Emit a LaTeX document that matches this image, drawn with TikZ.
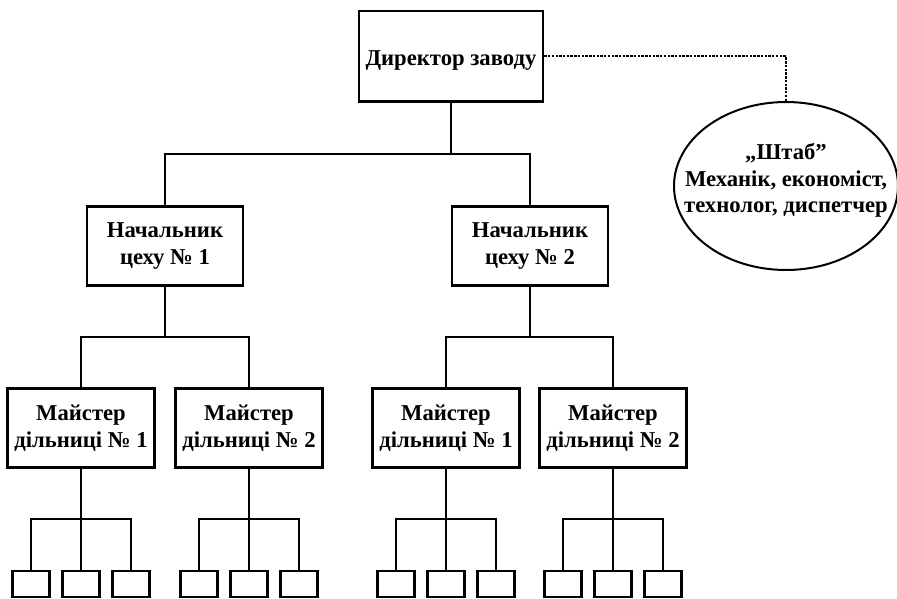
\documentclass[tikz,border=0pt]{standalone}
\usepackage{fontspec}
\setmainfont{Liberation Serif}
\usetikzlibrary{shapes.geometric}
\begin{document}
\begin{tikzpicture}[x=0.75pt,y=-0.75pt,
  every node/.style={font=\bfseries\fontsize{17}{20}\selectfont, align=center},
  post/.style={draw, line width=2pt, inner sep=0pt},
  bigpost/.style={post, minimum width=138pt, minimum height=68pt},
  headpost/.style={post, minimum width=117pt, minimum height=59pt},
  masterpost/.style={post, minimum width=110pt, minimum height=59pt},
  workpost/.style={post, minimum width=27.75pt, minimum height=19.5pt},
  staffpost/.style={draw, line width=1.5pt, ellipse, inner sep=0pt,
    minimum width=168pt, minimum height=126pt},
  link/.style={line width=2pt},
  advice/.style={line width=1.5pt, dash pattern=on 1.8pt off 1pt}
]
\useasboundingbox (0,0) rectangle (897,599);

% top of the hierarchy and the advisory staff
\node[bigpost] (dir) at (451,56.5) {\raisebox{-3pt}[\height][\depth]{Директор заводу}};
% the staff text is boxed with no size so that the ellipse keeps its own
\node[staffpost] (staff) at (786,186)
  {\raisebox{-0.5pt}[0pt][0pt]{\makebox[0pt]{\begin{tabular}{@{}c@{}}„Штаб”\\Механік, економіст,\\технолог, диспетчер\end{tabular}}}};
\draw[advice] (dir.east) -| (staff.north);

% shop heads
\node[headpost] (h1) at (165,246) {Начальник\\цеху № 1};
\node[headpost] (h2) at (530,246) {Начальник\\цеху № 2};
\coordinate (bus1) at (0,154);
\draw[link] (dir.south) -- (dir.south |- bus1);
\draw[link] (h1.north) |- (h2.north |- bus1) -- (h2.north);

% section masters
\node[masterpost] (m1) at (81,428) {Майстер\\дільниці № 1};
\node[masterpost] (m2) at (249,428) {Майстер\\дільниці № 2};
\node[masterpost] (m3) at (446,428) {Майстер\\дільниці № 1};
\node[masterpost] (m4) at (613,428) {Майстер\\дільниці № 2};
\coordinate (bus2) at (0,337);
\draw[link] (h1.south) -- (h1.south |- bus2);
\draw[link] (m1.north) |- (m2.north |- bus2) -- (m2.north);
\draw[link] (h2.south) -- (h2.south |- bus2);
\draw[link] (m3.north) |- (m4.north |- bus2) -- (m4.north);

% workers under each master
\coordinate (bus3) at (0,519);
\foreach \m/\cx in {m1/81, m2/249, m3/446, m4/613} {
  \node[workpost] (\m w1) at (\cx-50,584) {};
  \node[workpost] (\m w2) at (\cx,584) {};
  \node[workpost] (\m w3) at (\cx+50,584) {};
  \draw[link] (\m.south) -- (\m w2.north);
  \draw[link] (\m w1.north) |- (\m w3.north |- bus3) -- (\m w3.north);
}
\end{tikzpicture}
\end{document}
